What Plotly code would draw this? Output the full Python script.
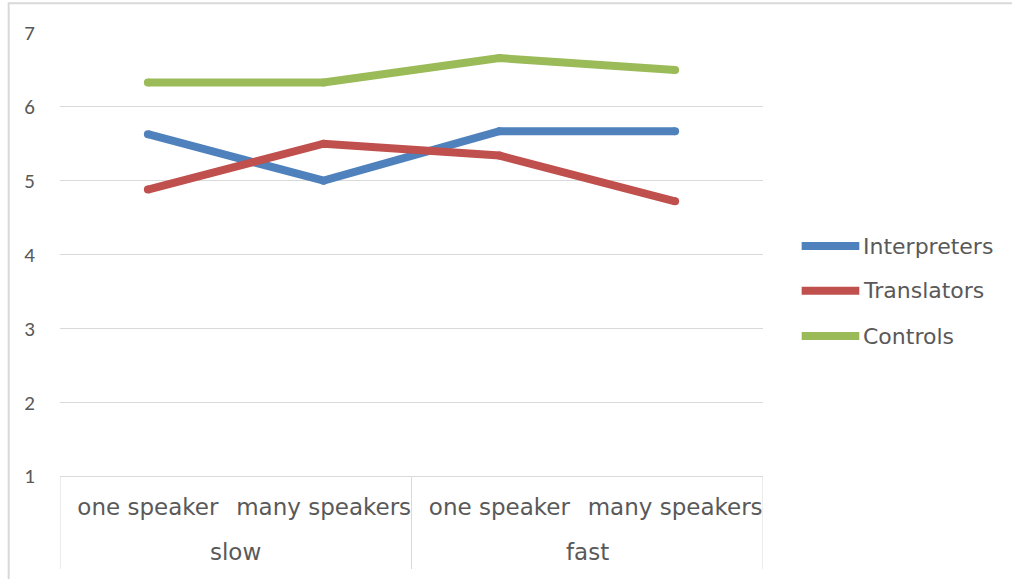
import plotly.graph_objects as go

# Design conditions: speech rate (outer group) x number of speakers (inner)
speed = ["slow", "slow", "fast", "fast"]
speakers = ["one speaker", "many speakers", "one speaker", "many speakers"]

# Mean scores per group
interpreters = [5.63, 5.0, 5.67, 5.67]
translators = [4.88, 5.5, 5.34, 4.72]
controls = [6.33, 6.33, 6.66, 6.5]

y_ticks = [1, 2, 3, 4, 5, 6, 7]

series = [
    ("Interpreters", interpreters, "#4F81BD"),
    ("Translators", translators, "#C0504D"),
    ("Controls", controls, "#9BBB59"),
]

text_color = "#595959"
grid_color = "#D9D9D9"
label_font = "'DejaVu Sans', Verdana, sans-serif"

positions = list(range(len(speakers)))

fig = go.Figure()
for name, vals, color in series:
    # round dots at the vertices give the thick lines rounded ends and joins
    fig.add_trace(go.Scatter(
        x=positions, y=vals, name=name, mode="lines+markers",
        line=dict(color=color, width=8),
        marker=dict(color=color, size=8, line=dict(width=0)),
        showlegend=False,
    ))

# Outer group labels centred under their members, with divider lines
groups = list(dict.fromkeys(speed))
for g in groups:
    idx = [i for i, s in enumerate(speed) if s == g]
    fig.add_annotation(text=g, xref="x", yref="paper",
                       x=sum(idx) / len(idx), y=-0.172,
                       xanchor="center", yanchor="middle", showarrow=False,
                       font=dict(size=23, color=text_color, family=label_font))
bounds = [-0.5] + [i + 0.5 for i in range(len(speed) - 1) if speed[i] != speed[i + 1]] + [len(speed) - 0.5]
for b in bounds:
    fig.add_shape(type="line", xref="x", yref="paper",
                  x0=b, x1=b, y0=0, y1=-0.21,
                  line=dict(color=grid_color, width=1))

# Legend drawn as thick line swatches with labels to the right
legend_y = [0.519, 0.418, 0.316]
for (name, _, color), ly in zip(series, legend_y):
    fig.add_shape(type="line", xref="paper", yref="paper",
                  x0=1.055, x1=1.137, y0=ly, y1=ly,
                  line=dict(color=color, width=8))
    fig.add_annotation(text=name, xref="paper", yref="paper",
                       x=1.139, y=ly, xanchor="left", yanchor="middle",
                       showarrow=False,
                       font=dict(size=22, color=text_color, family=label_font))

# Light outer frame of the chart area
fig.add_shape(type="rect", xref="paper", yref="paper",
              x0=-0.073, x1=1.5, y0=-0.5, y1=1.067,
              line=dict(color=grid_color, width=2), layer="below")

fig.update_layout(
    width=1012, height=579,
    margin=dict(l=60, r=249, t=33, b=103),
    paper_bgcolor="white", plot_bgcolor="white",
    font=dict(family=label_font, color=text_color, size=22),
    xaxis=dict(
        range=[-0.5, len(speakers) - 0.5],
        tickvals=positions, ticktext=speakers,
        showgrid=False,
        showline=True, linecolor=grid_color, linewidth=1,
        ticks="", zeroline=False,
        tickfont=dict(size=23, color=text_color, family=label_font),
        ticklabelstandoff=10,
    ),
    yaxis=dict(
        range=[1, 7], tickvals=y_ticks,
        showgrid=True, gridcolor=grid_color, gridwidth=1,
        zeroline=False, showline=False, ticks="",
        tickfont=dict(size=21, color=text_color, family="Carlito, Lato, sans-serif"),
        ticklabelstandoff=24,
    ),
)

fig.write_html("out.html")
